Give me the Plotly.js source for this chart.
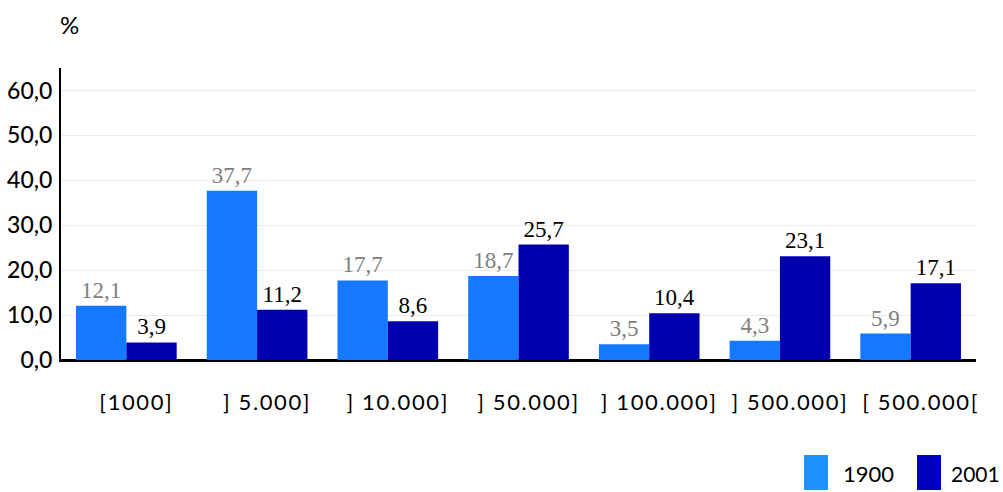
<!DOCTYPE html>
<html>
<head>
<meta charset="utf-8">
<script src="https://cdn.plot.ly/plotly-3.0.1.min.js"></script>
<style>
html,body{margin:0;padding:0;background:#fff;}
#chart{width:1003px;height:492px;}
#chart .xtick text{letter-spacing:1.6px;}
</style>
</head>
<body>
<div id="chart"></div>
<script>
var categories = ["[1000]", "] 5.000]", "] 10.000]", "] 50.000]", "] 100.000]", "] 500.000]", "[ 500.000["];
var series1900 = [12.1, 37.7, 17.7, 18.7, 3.5, 4.3, 5.9];
var series2001 = [3.9, 11.2, 8.6, 25.7, 10.4, 23.1, 17.1];
var yTicks = [0, 10, 20, 30, 40, 50, 60];
var seriesNames = ["1900", "2001"];

var sansFam = "Lato, 'Open Sans', sans-serif";
var serifFam = "'Liberation Serif', 'DejaVu Serif', serif";

var traces = [
  {type: "bar", name: seriesNames[0], x: categories, y: series1900,
   marker: {color: "#1479FF", line: {width: 0}},
   texttemplate: "%{y:.1f}", textposition: "outside", cliponaxis: false,
   textfont: {family: serifFam, size: 23, color: "#808080"},
   hoverinfo: "none", showlegend: false},
  {type: "bar", name: seriesNames[1], x: categories, y: series2001,
   marker: {color: "#0000AE", line: {width: 0}},
   texttemplate: "%{y:.1f}", textposition: "outside", cliponaxis: false,
   textfont: {family: serifFam, size: 23, color: "#000"},
   hoverinfo: "none", showlegend: false}
];

var layout = {
  width: 1003, height: 492,
  margin: {l: 61, r: 27, t: 68, b: 132},
  paper_bgcolor: "#fff", plot_bgcolor: "#fff",
  separators: ",.",
  barmode: "group", bargap: 0.23, bargroupgap: 0,
  showlegend: false,
  uniformtext: {mode: false},
  xaxis: {
    type: "category", showgrid: false, zeroline: false,
    showline: true, linecolor: "#000", linewidth: 2,
    ticks: "", tickfont: {family: sansFam, size: 22, color: "#000"},
    ticklabelstandoff: 22, ticklabelshift: 10
  },
  yaxis: {
    range: [0, 65], tickvals: yTicks, tickformat: ".1f",
    showgrid: true, gridcolor: "#ebebeb", gridwidth: 1,
    zeroline: true, zerolinecolor: "#000", zerolinewidth: 2,
    showline: true, linecolor: "#000", linewidth: 2,
    ticks: "", tickfont: {family: sansFam, size: 23, color: "#000", weight: 500},
    ticklabelstandoff: 2
  },
  shapes: [
    {type: "rect", xref: "paper", yref: "paper", x0: (804-61)/915, x1: (828-61)/915, y0: (360-490)/292, y1: (360-455)/292, fillcolor: "#1E93FF", line: {width: 0}},
    {type: "rect", xref: "paper", yref: "paper", x0: (917-61)/915, x1: (941-61)/915, y0: (360-490)/292, y1: (360-455)/292, fillcolor: "#0000C0", line: {width: 0}}
  ],
  annotations: [
    {text: "%", xref: "paper", yref: "paper", x: (69-61)/915, y: (360-25)/292, xanchor: "center", yanchor: "middle", showarrow: false, font: {family: sansFam, size: 24, color: "#000"}},
    {text: seriesNames[0], xref: "paper", yref: "paper", x: (841-61)/915, y: (360-473)/292, xanchor: "left", yanchor: "middle", showarrow: false, font: {family: sansFam, size: 22, color: "#000"}},
    {text: seriesNames[1], xref: "paper", yref: "paper", x: (1002-61)/915, y: (360-473)/292, xanchor: "right", yanchor: "middle", showarrow: false, font: {family: sansFam, size: 21, color: "#000"}}
  ]
};

Plotly.newPlot("chart", traces, layout, {displayModeBar: false, staticPlot: true});
</script>
</body>
</html>
